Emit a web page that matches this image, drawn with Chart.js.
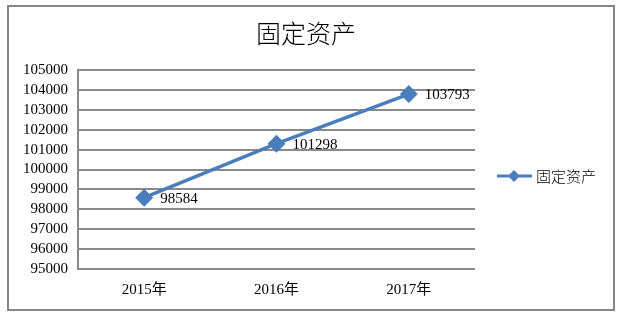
<!DOCTYPE html>
<html><head><meta charset="utf-8">
<script src="https://cdn.jsdelivr.net/npm/chart.js@4"></script>
<style>
html,body{margin:0;padding:0;background:#fff;}
#wrap{position:relative;width:624px;height:318px;}
#frame{position:absolute;left:7px;top:5px;width:604px;height:302px;border:2px solid #868686;box-sizing:content-box;pointer-events:none;}
canvas{position:absolute;left:0;top:0;}
</style></head>
<body><div id="wrap"><canvas id="c" width="624" height="318"></canvas><div id="frame"></div></div>
<script>
const title = '固定资产';
const categories = ['2015年', '2016年', '2017年'];
const seriesName = '固定资产';
const values = [98584, 101298, 103793];
const yMin = 95000, yMax = 105000, yStep = 1000;

const serif = '"Liberation Serif", "Times New Roman", "Noto Sans CJK SC", serif';
const cjk = '"Noto Sans CJK SC", sans-serif';
const blue = '#4a7ebb';

const extras = {
  id: 'extras',
  afterDraw(chart) {
    const ctx = chart.ctx;
    ctx.save();
    // title
    ctx.fillStyle = '#000';
    ctx.font = '300 25px ' + cjk;
    ctx.textAlign = 'center';
    ctx.textBaseline = 'middle';
    ctx.fillText(title, 306, 33);
    // data labels
    const meta = chart.getDatasetMeta(0);
    ctx.font = '15px ' + serif;
    ctx.textAlign = 'left';
    meta.data.forEach((p, i) => {
      ctx.fillText(String(values[i]), p.x + 16, p.y + 1);
    });
    // legend
    const ly = 176;
    ctx.strokeStyle = blue;
    ctx.lineWidth = 3;
    ctx.beginPath(); ctx.moveTo(497, ly); ctx.lineTo(532, ly); ctx.stroke();
    ctx.fillStyle = blue;
    ctx.beginPath();
    ctx.moveTo(514, ly - 6); ctx.lineTo(520, ly); ctx.lineTo(514, ly + 6); ctx.lineTo(508, ly); ctx.closePath(); ctx.fill();
    ctx.fillStyle = '#000';
    ctx.font = '300 15px ' + cjk;
    ctx.textAlign = 'left';
    ctx.fillText(seriesName, 536, ly);
    ctx.restore();
  }
};

new Chart(document.getElementById('c'), {
  type: 'line',
  data: {
    labels: categories,
    datasets: [{
      label: seriesName,
      data: values,
      borderColor: blue,
      backgroundColor: blue,
      borderWidth: 3.5,
      pointStyle: 'rectRot',
      pointRadius: 6.5,
      pointHoverRadius: 6.5,
      tension: 0
    }]
  },
  options: {
    responsive: false,
    animation: false,
    events: [],
    layout: { padding: { left: 0, right: 149, top: 70, bottom: 0 } },
    plugins: { legend: { display: false }, title: { display: false }, tooltip: { enabled: false } },
    scales: {
      x: {
        offset: true,
        grid: { display: false, drawOnChartArea: false, drawTicks: false },
        border: { display: false },
        ticks: { color: '#000', font: { family: serif, size: 15 }, padding: 12 },
        afterFit(s) { s.height = 49; }
      },
      y: {
        min: yMin, max: yMax,
        ticks: { stepSize: yStep, autoSkip: false, color: '#000', font: { family: serif, size: 15 }, padding: 10,
                 callback: v => String(v) },
        grid: { color: '#8a8a8a', lineWidth: 2, drawTicks: false },
        border: { display: true, color: '#8a8a8a', width: 2 },
        afterFit(s) { s.width = 78; }
      }
    }
  },
  plugins: [extras]
});
</script></body></html>
